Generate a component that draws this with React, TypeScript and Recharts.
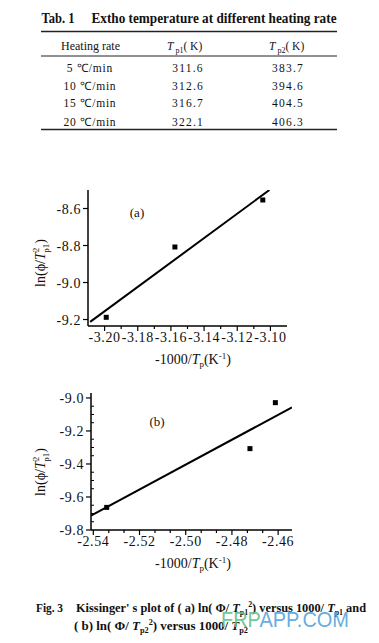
import React from "react";
import { ComposedChart, Scatter, Line, XAxis, YAxis } from "recharts";

// table values
const heatingRates = ["5 ℃/min", "10 ℃/min", "15 ℃/min", "20 ℃/min"];
const tp1Values = ["311.6", "312.6", "316.7", "322.1"];
const tp2Values = ["383.7", "394.6", "404.5", "406.3"];

// panel (a): -1000/Tp1 vs ln(phi/Tp1^2)
const aPointX = [-3.199, -3.1576, -3.1046];
const aPointY = [-9.188, -8.808, -8.554];
const aFitX = [-3.2087, -3.1006];
const aFitY = [-9.213, -8.5];

// panel (b): -1000/Tp2 vs ln(phi/Tp2^2)
const bPointX = [-2.5342, -2.4722, -2.4612];
const bPointY = [-9.663, -9.307, -9.0285];
const bFitX = [-2.541, -2.454];
const bFitY = [-9.713, -9.057];

// ticks
const aXTicks = [-3.2, -3.19, -3.18, -3.17, -3.16, -3.15, -3.14, -3.13, -3.12, -3.11, -3.1];
const aXLabels = [-3.2, -3.18, -3.16, -3.14, -3.12, -3.1];
const aYTicks = [-9.2, -9.0, -8.8, -8.6];
const aYLabels = [-9.2, -9.0, -8.8, -8.6];
const bXTicks = [-2.54, -2.5333, -2.5267, -2.52, -2.5133, -2.5067, -2.5, -2.4933, -2.4867, -2.48, -2.4733, -2.4667, -2.46];
const bXLabels = [-2.54, -2.52, -2.5, -2.48, -2.46];
const bYTicks = [-9.8, -9.75, -9.7, -9.65, -9.6, -9.55, -9.5, -9.45, -9.4, -9.35, -9.3, -9.25, -9.2, -9.15, -9.1, -9.05, -9.0];
const bYLabels = [-9.8, -9.6, -9.4, -9.2, -9.0];

const SERIF = '"Liberation Serif", "Times New Roman", serif';

const zip = (xs: number[], ys: number[]) => xs.map((x, i) => ({ x, y: ys[i] }));
const isLabel = (list: number[], v: number) => list.some((l) => Math.abs(l - v) < 1e-6);

function XTick({ x, y, payload, labels }: any) {
  const major = isLabel(labels, payload.value);
  return (
    <g>
      <line x1={x} x2={x} y1={y} y2={y + (major ? 5 : 3)} stroke="#000" strokeWidth={1.2} />
      {major && (
        <text x={x} y={y + 16} textAnchor="middle" fontFamily={SERIF} fontSize={14} letterSpacing={0.6} fill="#111">
          {payload.value.toFixed(2)}
        </text>
      )}
    </g>
  );
}

function YTick({ x, y, payload, labels, minorIn }: any) {
  const major = isLabel(labels, payload.value);
  return (
    <g>
      {major ? (
        <line x1={x - 5} x2={x} y1={y} y2={y} stroke="#000" strokeWidth={1.2} />
      ) : (
        <line x1={x} x2={x + (minorIn ? 3 : -3)} y1={y} y2={y} stroke="#000" strokeWidth={1} />
      )}
      {major && (
        <text x={x - 7} y={y + 5} textAnchor="end" fontFamily={SERIF} fontSize={14} letterSpacing={0.6} fill="#111">
          {payload.value.toFixed(1)}
        </text>
      )}
    </g>
  );
}

function XTitle({ viewBox, cx }: any) {
  const y = viewBox.y + 38;
  return (
    <text x={cx} y={y} textAnchor="middle" fontFamily={SERIF} fontSize={14} fill="#111">
      -1000/<tspan fontStyle="italic">T</tspan>
      <tspan fontSize={9} dy={3}>p</tspan>
      <tspan dy={-3}>(K</tspan>
      <tspan fontSize={9} dy={-5}>-1</tspan>
      <tspan dy={5}>)</tspan>
    </text>
  );
}

function YTitle({ cx, cy }: any) {
  return (
    <text
      x={cx}
      y={cy}
      transform={`rotate(-90, ${cx}, ${cy})`}
      textAnchor="middle"
      fontFamily={SERIF}
      fontSize={14}
      fill="#111"
    >
      ln(ϕ/<tspan fontStyle="italic">T</tspan>
      <tspan fontSize={9} dy={-6}>2</tspan>
      <tspan fontSize={9} dx={-5} dy={10}>p1</tspan>
      <tspan dy={-4}>)</tspan>
    </text>
  );
}

const square = ({ cx, cy }: any) => <rect x={cx - 2.5} y={cy - 2.5} width={5} height={5} fill="#000" />;

function Panel(props: any) {
  const { top, height, margin, xDomain, yDomain, xTicks, xLabels, yTicks, yLabels, points, fit, minorIn, titleX, titleY } = props;
  return (
    <div style={{ position: "absolute", left: 0, top }}>
      <ComposedChart width={379} height={height} margin={margin}>
        <XAxis
          type="number"
          dataKey="x"
          domain={xDomain}
          ticks={xTicks}
          allowDataOverflow
          height={30}
          tickSize={0}
          tickMargin={0}
          tickLine={false}
          interval={0}
          axisLine={{ stroke: "#000", strokeWidth: 1.5 }}
          tick={<XTick labels={xLabels} />}
          label={{ content: (p: any) => <XTitle viewBox={p.viewBox} cx={titleX} /> }}
        />
        <YAxis
          type="number"
          dataKey="y"
          domain={yDomain}
          ticks={yTicks}
          allowDataOverflow
          width={50}
          tickSize={0}
          tickMargin={0}
          tickLine={false}
          interval={0}
          axisLine={{ stroke: "#000", strokeWidth: 1.5 }}
          tick={<YTick labels={yLabels} minorIn={minorIn} />}
          label={{ content: () => <YTitle cx={45} cy={titleY} /> }}
        />
        <Line
          data={fit}
          dataKey="y"
          stroke="#000"
          strokeWidth={2}
          dot={false}
          isAnimationActive={false}
        />
        <Scatter data={points} shape={square} isAnimationActive={false} />
      </ComposedChart>
    </div>
  );
}

export default function App() {
  const rowY = [71.5, 89.5, 107, 125.5];
  return (
    <div style={{ position: "absolute", left: 0, top: 0, width: 379, height: 643, background: "#fff", overflow: "hidden" }}>
      <Panel
        top={150}
        height={230}
        margin={{ top: 40, right: 92, bottom: 24, left: 38 }}
        xDomain={[-3.21, -3.09]}
        yDomain={[-9.235, -8.5]}
        xTicks={aXTicks}
        xLabels={aXLabels}
        yTicks={aYTicks}
        yLabels={aYLabels}
        points={zip(aPointX, aPointY)}
        fit={zip(aFitX, aFitY)}
        minorIn={false}
        titleX={193}
        titleY={113}
      />
      <Panel
        top={370}
        height={210}
        margin={{ top: 23, right: 87, bottom: 20, left: 41 }}
        xDomain={[-2.541, -2.454]}
        yDomain={[-9.8, -8.97]}
        xTicks={bXTicks}
        xLabels={bXLabels}
        yTicks={bYTicks}
        yLabels={bYLabels}
        points={zip(bPointX, bPointY)}
        fit={zip(bFitX, bFitY)}
        minorIn={true}
        titleX={193}
        titleY={102}
      />
      <svg width={379} height={643} style={{ position: "absolute", left: 0, top: 0, pointerEvents: "none" }}>
        {/* table */}
        <text x={41.5} y={23} fontFamily={SERIF} fontWeight="bold" fontSize={14} textLength={33} lengthAdjust="spacingAndGlyphs" fill="#111">
          Tab. 1
        </text>
        <text x={91.5} y={23} fontFamily={SERIF} fontWeight="bold" fontSize={14} textLength={245} lengthAdjust="spacingAndGlyphs" fill="#111">
          Extho temperature at different heating rate
        </text>
        <line x1={41} x2={337} y1={31.5} y2={31.5} stroke="#222" strokeWidth={1.6} />
        <line x1={41} x2={337} y1={56} y2={56} stroke="#222" strokeWidth={1} />
        <line x1={41} x2={337} y1={129.5} y2={129.5} stroke="#222" strokeWidth={1.6} />
        <text x={61} y={49.5} fontFamily={SERIF} fontSize={11.5} textLength={59} lengthAdjust="spacingAndGlyphs" fill="#111">
          Heating rate
        </text>
        <text x={167} y={49.5} fontFamily={SERIF} fontSize={11.5} fill="#111">
          <tspan fontStyle="italic">T</tspan>
          <tspan fontSize={8} dx={2} dy={3}>p1</tspan>
          <tspan dy={-3}>( K)</tspan>
        </text>
        <text x={269} y={49.5} fontFamily={SERIF} fontSize={11.5} fill="#111">
          <tspan fontStyle="italic">T</tspan>
          <tspan fontSize={8} dx={2} dy={3}>p2</tspan>
          <tspan dy={-3}>( K)</tspan>
        </text>
        {heatingRates.map((r, i) => (
          <text key={r} x={90} y={rowY[i]} textAnchor="middle" fontFamily={SERIF} fontSize={11.5} letterSpacing={0.8} fill="#111">
            {r}
          </text>
        ))}
        {tp1Values.map((v, i) => (
          <text key={v} x={188} y={rowY[i]} textAnchor="middle" fontFamily={SERIF} fontSize={11.5} letterSpacing={1.2} fill="#111">
            {v}
          </text>
        ))}
        {tp2Values.map((v, i) => (
          <text key={v} x={288} y={rowY[i]} textAnchor="middle" fontFamily={SERIF} fontSize={11.5} letterSpacing={1.2} fill="#111">
            {v}
          </text>
        ))}

        {/* panel tags */}
        <text x={137} y={217} textAnchor="middle" fontFamily={SERIF} fontSize={13} fill="#111">(a)</text>
        <text x={157} y={426} textAnchor="middle" fontFamily={SERIF} fontSize={13} fill="#111">(b)</text>

        {/* caption */}
        <text x={36} y={611.5} fontFamily={SERIF} fontWeight="bold" fontSize={12.5} textLength={27} lengthAdjust="spacingAndGlyphs" fill="#111">
          Fig. 3
        </text>
        <text x={76} y={611.5} fontFamily={SERIF} fontWeight="bold" fontSize={12.5} textLength={290} lengthAdjust="spacingAndGlyphs" fill="#111">
          Kissinger' s plot of ( a) ln( Φ/ <tspan fontStyle="italic">T</tspan>
          <tspan fontSize={8} dy={3}>p1</tspan>
          <tspan fontSize={8} dy={-8}>2</tspan>
          <tspan dy={5}>) versus 1000/ </tspan>
          <tspan fontStyle="italic">T</tspan>
          <tspan fontSize={8} dy={3}>p1</tspan>
          <tspan dy={-3}> and</tspan>
        </text>
        <text x={74} y={630} fontFamily={SERIF} fontWeight="bold" fontSize={12.5} textLength={174} lengthAdjust="spacingAndGlyphs" fill="#111">
          ( b) ln( Φ/ <tspan fontStyle="italic">T</tspan>
          <tspan fontSize={8} dy={3}>p2</tspan>
          <tspan fontSize={8} dy={-8}>2</tspan>
          <tspan dy={5}>) versus 1000/ </tspan>
          <tspan fontStyle="italic">T</tspan>
          <tspan fontSize={8} dy={3}>p2</tspan>
        </text>

        {/* watermark */}
        <text x={221} y={627} fontFamily='"Liberation Sans", Arial, sans-serif' fontSize={22} textLength={128} lengthAdjust="spacingAndGlyphs" opacity={0.9}>
          <tspan fill="#62c38c">FRP</tspan>
          <tspan fill="#58a5dc">APP.COM</tspan>
        </text>
      </svg>
    </div>
  );
}
